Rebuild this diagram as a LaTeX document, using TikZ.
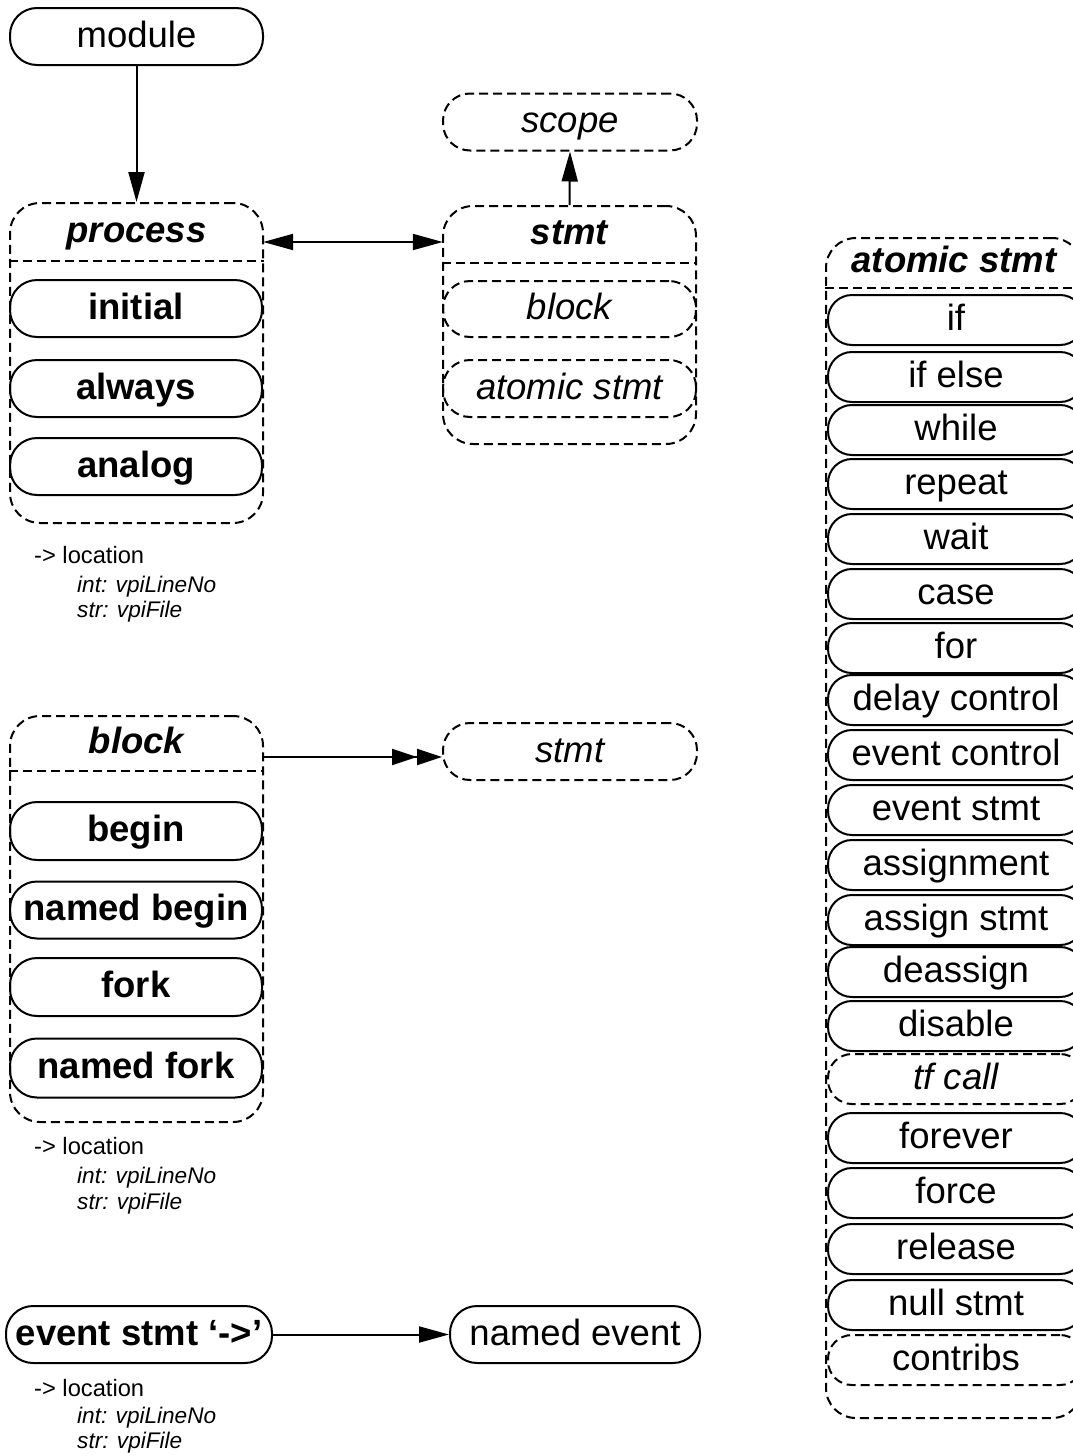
\documentclass[tikz,border=0pt]{standalone}
\usepackage{fontspec}
\setmainfont{Liberation Sans}
\usetikzlibrary{arrows.meta}
\tikzset{
  lw/.style={line width=2pt},
  dsh/.style={dash pattern=on 9pt off 5pt},
  big/.style={font=\fontsize{36.5}{40}\selectfont, text height=27pt, text depth=6pt},
  stadium/.style={draw, lw, big, rounded corners=27pt, inner sep=0pt, minimum height=57pt},
  dstadium/.style={stadium, dsh},
  rstadium/.style={draw, lw, big, rounded corners=24pt, inner sep=0pt, minimum height=50pt, minimum width=256pt},
  drstadium/.style={rstadium, dsh},
  container/.style={draw, lw, dsh, rounded corners=30pt, inner sep=0pt},
  title/.style={big, inner sep=0pt, minimum height=50pt},
  loc/.style={anchor=west, inner sep=0pt, font=\fontsize{23.7}{26}\selectfont},
  attr/.style={anchor=west, inner sep=0pt, font=\fontsize{22.6}{25}\selectfont\itshape},
  arr/.style={lw, -{Triangle[length=30pt,width=16pt]}},
  darr/.style={lw, {Triangle[length=30pt,width=16pt]}-{Triangle[length=30pt,width=16pt]}},
  dblarr/.style={lw, -{Triangle[length=25pt,width=16pt]Triangle[length=25pt,width=16pt]}},
}
\begin{document}
\begin{tikzpicture}[x=1pt,y=-1pt]
\useasboundingbox (0,0) rectangle (1073,1456);
\begin{scope}
\clip (0,0) rectangle (1073,1456);

% module
\node[stadium, minimum width=253pt] (module) at (136.5,36.5) {module};

% process container
\node[container, minimum width=253pt, minimum height=320pt] (process) at (136.5,363) {};
\node[title, minimum width=253pt] (ptitle) at (136.5,232) {\bfseries\itshape process};
\draw[lw, dsh] (process.west |- 0,261) -- (process.east |- 0,261);
\node[stadium, minimum width=252pt] (initial) at (136,308.5) {\bfseries initial};
\node[stadium, minimum width=252pt] (always) at (136,388.5) {\bfseries always};
\node[stadium, minimum width=252pt] (analog) at (136,466.5) {\bfseries analog};
\node[loc] (loc1) at (34,555) {-> location};
\node[attr] (int1) at (77,587) {int: vpiLineNo};
\node[attr] (str1) at (77,612) {str: vpiFile};

% scope
\node[dstadium, minimum width=254pt] (scope) at (570,122) {\itshape scope};

% stmt container
\node[container, minimum width=253pt, minimum height=238pt] (stmt) at (569.5,325) {};
\node[title, minimum width=253pt] (stitle) at (569.5,234) {\bfseries\itshape stmt};
\draw[lw, dsh] (stmt.west |- 0,263) -- (stmt.east |- 0,263);
\node[dstadium, minimum width=253pt, minimum height=56pt] (sblock) at (569.5,309) {\itshape block};
\node[dstadium, minimum width=253pt] (satomic) at (569.5,388.5) {\itshape atomic stmt};

\draw[arr] (stmt.north) -- (scope.south);
\draw[arr] (module.south) -- (process.north);
\draw[darr] ([yshift=-10pt]ptitle.east) -- ([yshift=-8pt]stitle.west);

% block container
\node[container, minimum width=253pt, minimum height=406pt] (block) at (136.5,919) {};
\node[title, minimum width=253pt] (btitle) at (136.5,743) {\bfseries\itshape block};
\draw[lw, dsh] (block.west |- 0,771) -- (block.east |- 0,771);
\node[stadium, minimum width=252pt, minimum height=58pt] (begin) at (136,831) {\bfseries begin};
\node[stadium, minimum width=252pt, minimum height=57pt] (nbegin) at (136,910) {\bfseries named begin};
\node[stadium, minimum width=252pt, minimum height=58pt] (fork) at (136,987) {\bfseries fork};
\node[stadium, minimum width=252pt, minimum height=59pt] (nfork) at (136,1068) {\bfseries named fork};
\node[loc] (loc2) at (34,1146) {-> location};
\node[attr] (int2) at (77,1178) {int: vpiLineNo};
\node[attr] (str2) at (77,1204) {str: vpiFile};

\node[dstadium, minimum width=254pt] (stmt2) at (570,751.5) {\itshape stmt};
\draw[dblarr] ([yshift=-14pt]btitle.east) -- (stmt2.west |- 0,757);

% event stmt
\node[stadium, minimum width=266pt] (evst) at (139,1334.5) {\bfseries event stmt ‘->’};
\node[stadium, minimum width=250pt] (nevent) at (575,1334.5) {named event};
\draw[arr] (evst.east) -- (nevent.west);
\node[loc] (loc3) at (34,1388) {-> location};
\node[attr] (int3) at (77,1418) {int: vpiLineNo};
\node[attr] (str3) at (77,1443) {str: vpiFile};

% atomic stmt container
\node[container, minimum width=256pt, minimum height=1180pt] (atomic) at (954,828) {};
\node[title, minimum width=256pt] (atitle) at (954,262) {\bfseries\itshape atomic stmt};
\draw[lw, dsh] (atomic.west |- 0,288) -- (atomic.east |- 0,288);
\node[rstadium] (a1) at (956,320) {if};
\node[rstadium] (a2) at (956,377) {if else};
\node[rstadium] (a3) at (956,430) {while};
\node[rstadium] (a4) at (956,484) {repeat};
\node[rstadium] (a5) at (956,539) {wait};
\node[rstadium] (a6) at (956,594) {case};
\node[rstadium] (a7) at (956,648) {for};
\node[rstadium] (a8) at (956,700) {delay control};
\node[rstadium] (a9) at (956,755) {event control};
\node[rstadium] (a10) at (956,810) {event stmt};
\node[rstadium] (a11) at (956,865) {assignment};
\node[rstadium] (a12) at (956,920) {assign stmt};
\node[rstadium] (a13) at (956,972) {deassign};
\node[rstadium] (a14) at (956,1026) {disable};
\node[drstadium] (a15) at (956,1079) {\itshape tf call};
\node[rstadium] (a16) at (956,1138) {forever};
\node[rstadium] (a17) at (956,1193) {force};
\node[rstadium] (a18) at (956,1249) {release};
\node[rstadium] (a19) at (956,1305) {null stmt};
\node[drstadium] (a20) at (956,1360) {contribs};
\end{scope}
\end{tikzpicture}
\end{document}
